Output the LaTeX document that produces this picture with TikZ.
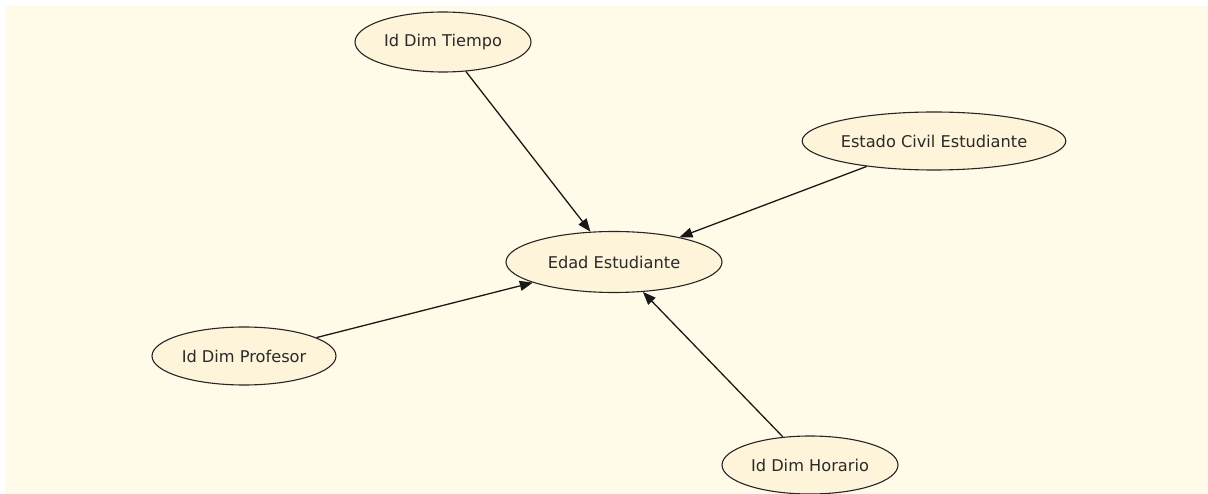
\documentclass[tikz,border=0pt]{standalone}
\usepackage{fontspec}
\setmainfont{DejaVu Sans}
\usetikzlibrary{shapes.geometric,arrows.meta}
\definecolor{bgc}{HTML}{FFFBE8}
\definecolor{nodefill}{HTML}{FDF4D9}
\definecolor{txt}{HTML}{2A2A2A}
\tikzset{
  ent/.style={ellipse, draw=black!85, line width=1.1pt, fill=nodefill, inner sep=0pt,
    font=\fontsize{16.2}{18}\selectfont, text=txt},
  link/.style={draw=black!90, line width=1.3pt, -{Triangle[length=13pt,width=10pt]}}
}
\begin{document}
\begin{tikzpicture}[x=1pt,y=-1pt]
\useasboundingbox (0,0) rectangle (1208,494);
\fill[white] (0,0) rectangle (1208,494);
\fill[bgc] (5,6) rectangle (1208,494);
\node[ent, minimum width=176pt, minimum height=60pt] (tiempo) at (443,42) {Id Dim Tiempo};
\node[ent, minimum width=262pt, minimum height=58pt] (estado) at (934,141) {Estado Civil Estudiante};
\node[ent, minimum width=216pt, minimum height=61pt] (edad) at (614,262) {Edad Estudiante};
\node[ent, minimum width=184pt, minimum height=58pt] (profesor) at (244,356) {Id Dim Profesor};
\node[ent, minimum width=176pt, minimum height=58pt] (horario) at (810,465) {Id Dim Horario};
\draw[link] (tiempo) -- (edad);
\draw[link] (estado) -- (edad);
\draw[link] (profesor) -- (edad);
\draw[link] (horario) -- (edad);
\end{tikzpicture}
\end{document}
